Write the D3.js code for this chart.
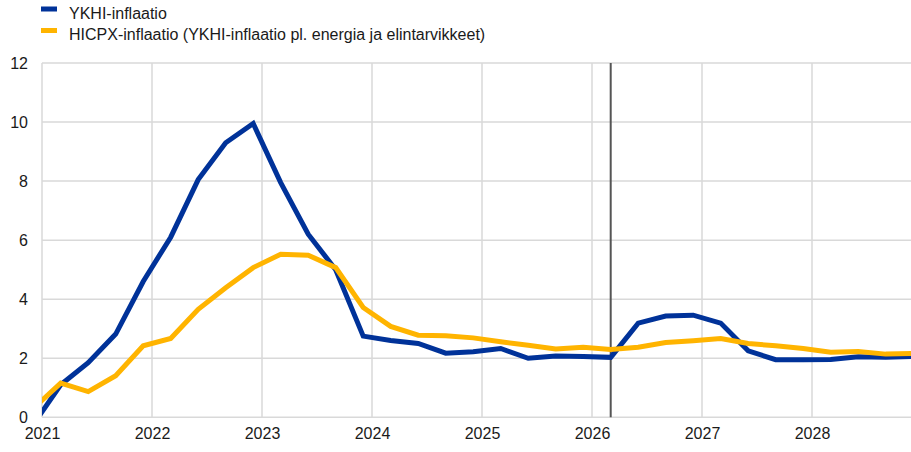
<!DOCTYPE html>
<html>
<head>
<meta charset="utf-8">
<script src="https://cdn.jsdelivr.net/npm/d3@7"></script>
<style>
    body { margin: 0; background: #fff; }
    text { font-family: Arial, "Liberation Sans", sans-serif; fill: #1a1a1a; }
</style>
</head>
<body>
<div id="chart"></div>
<script>
// quarters, 2020Q4 .. 2028Q4
let quarters = ["2020Q4",
    "2021Q1", "2021Q2", "2021Q3", "2021Q4",
    "2022Q1", "2022Q2", "2022Q3", "2022Q4",
    "2023Q1", "2023Q2", "2023Q3", "2023Q4",
    "2024Q1", "2024Q2", "2024Q3", "2024Q4",
    "2025Q1", "2025Q2", "2025Q3", "2025Q4",
    "2026Q1", "2026Q2", "2026Q3", "2026Q4",
    "2027Q1", "2027Q2", "2027Q3", "2027Q4",
    "2028Q1", "2028Q2", "2028Q3", "2028Q4"];

// YKHI-inflaatio
let hicp = [-0.25,
    1.1, 1.85, 2.82, 4.6,
    6.1, 8.05, 9.3, 9.95,
    7.95, 6.2, 5.0, 2.75,
    2.6, 2.5, 2.17, 2.22,
    2.33, 2.0, 2.08, 2.06,
    2.03, 3.19, 3.43, 3.46,
    3.19, 2.25, 1.95, 1.95,
    1.96, 2.05, 2.03, 2.06];

// HICPX-inflaatio
let hicpx = [0.3,
    1.16, 0.87, 1.41, 2.42,
    2.67, 3.66, 4.39, 5.07,
    5.52, 5.49, 5.07, 3.72,
    3.08, 2.78, 2.76, 2.69,
    2.56, 2.44, 2.31, 2.37,
    2.3, 2.37, 2.53, 2.59,
    2.67, 2.5, 2.42, 2.33,
    2.2, 2.23, 2.14, 2.16];

let yearTicks = [2021, 2022, 2023, 2024, 2025, 2026, 2027, 2028];
let yTicks = [0, 2, 4, 6, 8, 10, 12];
let projectionStart = "2026Q1";

let seriesNames = ["YKHI-inflaatio", "HICPX-inflaatio (YKHI-inflaatio pl. energia ja elintarvikkeet)"];
let seriesColors = ["#003299", "#ffb400"];

// quarter label -> fractional year (points sit a bit into the quarter)
function quarterPos(q) {
    return +q.slice(0, 4) + (+q.slice(5) - 1) * 0.25 + 0.17;
}

let width = 911, height = 452;
let margin = {top: 63, right: 0, bottom: 34, left: 42};

let svg = d3.select("#chart").append("svg")
    .attr("width", width)
    .attr("height", height);

let x = d3.scaleLinear()
    .domain([2021, 2028.9])
    .range([margin.left, width - margin.right]);

let y = d3.scaleLinear()
    .domain([0, 12])
    .range([height - margin.bottom - 0.7, margin.top]);

// grid
svg.append("g")
    .selectAll("line")
    .data(yTicks)
    .enter()
    .append("line")
    .attr("x1", margin.left)
    .attr("x2", width - margin.right)
    .attr("y1", d => y(d))
    .attr("y2", d => y(d))
    .attr("stroke", "#d9d9d9")
    .attr("stroke-width", 1.5);

svg.append("g")
    .selectAll("line")
    .data(yearTicks)
    .enter()
    .append("line")
    .attr("x1", d => x(d))
    .attr("x2", d => x(d))
    .attr("y1", y(12))
    .attr("y2", y(0))
    .attr("stroke", "#d9d9d9")
    .attr("stroke-width", 1.5);

// axis labels
let yAxis = d3.axisLeft(y).tickValues(yTicks).tickSize(0).tickPadding(14);
svg.append("g")
    .attr("transform", `translate(${margin.left}, 0)`)
    .call(yAxis)
    .call(g => g.select(".domain").remove())
    .selectAll("text")
    .style("font-size", "16px")
    .attr("fill", "#1a1a1a");

let xAxis = d3.axisBottom(x).tickValues(yearTicks).tickFormat(d3.format("d")).tickSize(0).tickPadding(10);
svg.append("g")
    .attr("transform", `translate(0, ${y(0)})`)
    .call(xAxis)
    .call(g => g.select(".domain").remove())
    .selectAll("text")
    .style("font-size", "16px")
    .attr("fill", "#1a1a1a");

// projection start marker
svg.append("line")
    .attr("x1", x(quarterPos(projectionStart)))
    .attr("x2", x(quarterPos(projectionStart)))
    .attr("y1", y(12))
    .attr("y2", y(0))
    .attr("stroke", "#555555")
    .attr("stroke-width", 2);

// clip lines to plot area
svg.append("clipPath")
    .attr("id", "plot-clip")
    .append("rect")
    .attr("x", margin.left)
    .attr("y", 0)
    .attr("width", width - margin.left - margin.right)
    .attr("height", height);

let line = d3.line()
    .x(d => x(quarterPos(d.q)))
    .y(d => y(d.v));

[hicp, hicpx].forEach((values, i) => {
    let rows = quarters.map((q, j) => ({q: q, v: values[j]}));
    svg.append("path")
        .datum(rows)
        .attr("clip-path", "url(#plot-clip)")
        .attr("fill", "none")
        .attr("stroke", seriesColors[i])
        .attr("stroke-width", 5)
        .attr("stroke-linejoin", "miter")
        .attr("d", line);
});

// legend
let legend = svg.append("g").attr("class", "legend");
seriesNames.forEach((name, i) => {
    legend.append("rect")
        .attr("x", 41)
        .attr("y", 6.5 + i * 21.5)
        .attr("width", 16)
        .attr("height", 5)
        .attr("fill", seriesColors[i]);
    legend.append("text")
        .attr("x", 69)
        .attr("y", 18.5 + i * 21)
        .style("font-size", "16px")
        .text(name);
});
</script>
</body>
</html>
